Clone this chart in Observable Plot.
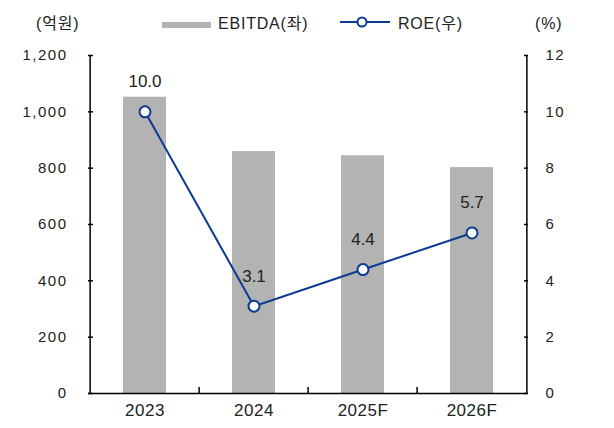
<!DOCTYPE html>
<html><head><meta charset="utf-8">
<script src="https://cdn.jsdelivr.net/npm/d3@7"></script>
<script src="https://cdn.jsdelivr.net/npm/@observablehq/plot@0.6"></script>
<style>
body{margin:0;background:#fff;font-family:"Liberation Sans","Noto Sans CJK KR",sans-serif;}
#wrap{position:relative;width:614px;height:428px;}
.lab{position:absolute;font-size:16px;letter-spacing:0.8px;color:#222;white-space:nowrap;line-height:20px;}
g[aria-label="y-axis tick label"] text{letter-spacing:1.5px;}
g[aria-label="x-axis tick label"] text{letter-spacing:0.5px;}
</style></head>
<body><div id="wrap"></div>
<script>
const years = ["2023","2024","2025F","2026F"];
const ebitda = [1052, 859, 844, 802];
const roe = [10.0, 3.1, 4.4, 5.7];
const leftTicks = [0,200,400,600,800,1000,1200];

const data = years.map((y,i)=>({year:y, ebitda:ebitda[i], roe:roe[i]}));
const W = 614, H = 428, ML = 88, MR = 87, MT = 55, MB = 35;
const bw = (W-ML-MR)/years.length;
const k = 100; // ROE -> left-axis units
const fmt = d3.format(",");
const blue = "#0a3a92";

const chart = Plot.plot({
  width: W, height: H,
  marginLeft: ML, marginRight: MR, marginTop: MT, marginBottom: MB,
  style: {fontFamily: '"Liberation Sans","Noto Sans CJK KR",sans-serif', fontSize: "15px", color: "#222", overflow: "visible"},
  x: {domain: years, paddingInner: 0.61, paddingOuter: 0.305, label: null},
  y: {domain: [0, 1200], label: null},
  marks: [
    Plot.barY(data, {x: "year", y: "ebitda", fill: "#b3b3b3"}),
    Plot.axisY({anchor: "left", ticks: leftTicks, tickFormat: fmt, tickSize: -5, tickPadding: 26, stroke: "#000", strokeWidth: 1.5, fontSize: 15}),
    Plot.axisY({anchor: "right", ticks: leftTicks, tickFormat: d => d/k, tickSize: -4, tickPadding: 22, stroke: "#000", strokeWidth: 1.5, fontSize: 15}),
    Plot.axisX({tickSize: 0, tickPadding: 10, fontSize: 17}),
    Plot.ruleY([0], {stroke: "#000", strokeWidth: 1.5}),
    Plot.ruleX([years[0]], {x: d => d, y1: () => 0, y2: () => 1200, dx: -bw/2, stroke: "#000", strokeWidth: 1.5}),
    Plot.ruleX([years[years.length-1]], {x: d => d, y1: () => 0, y2: () => 1200, dx: bw/2, stroke: "#000", strokeWidth: 1.5}),
    Plot.ruleX(years.slice(1), {x: d => d, y1: () => 0, y2: () => 21, dx: -bw/2, stroke: "#000", strokeWidth: 1.5}),
    Plot.line(data, {x: "year", y: d => d.roe*k, stroke: blue, strokeWidth: 2}),
    Plot.dot(data, {x: "year", y: d => d.roe*k, r: 5.5, fill: "#fff", stroke: blue, strokeWidth: 2}),
    Plot.text(data, {x: "year", y: d => d.roe*k, text: d => d.roe.toFixed(1), dy: -30, fill: "#222", fontSize: 17})
  ]
});
const wrap = document.getElementById("wrap");
wrap.appendChild(chart);

function label(text, left, top){
  const d = document.createElement("div"); d.className="lab"; d.style.left=left+"px"; d.style.top=top+"px"; d.textContent=text; wrap.appendChild(d); return d;
}
label("(억원)", 36, 14);
label("(%)", 535, 14);
// legend
const sw = document.createElement("div");
sw.style.cssText="position:absolute;left:162px;top:22px;width:49px;height:6px;background:#b3b3b3;";
wrap.appendChild(sw);
label("EBITDA(좌)", 218, 14);
const ls = document.createElementNS("http://www.w3.org/2000/svg","svg");
ls.setAttribute("width","50"); ls.setAttribute("height","14");
ls.style.cssText="position:absolute;left:340px;top:15px;";
ls.innerHTML='<line x1="0" y1="7" x2="50" y2="7" stroke="'+blue+'" stroke-width="2"/><circle cx="22" cy="7" r="4.5" fill="#fff" stroke="'+blue+'" stroke-width="2"/>';
wrap.appendChild(ls);
label("ROE(우)", 398, 14);
</script></body></html>
